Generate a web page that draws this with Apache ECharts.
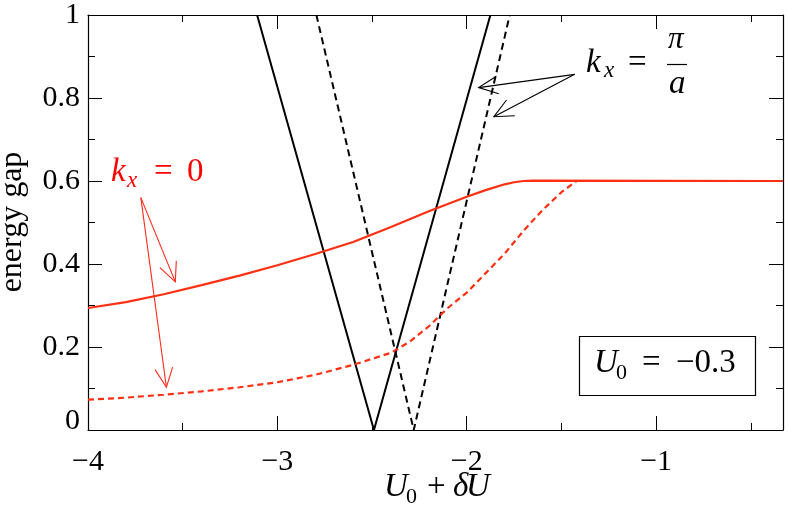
<!DOCTYPE html>
<html><head><meta charset="utf-8">
<script src="https://cdn.jsdelivr.net/npm/echarts@6/dist/echarts.min.js"></script>
<style>html,body{margin:0;padding:0;background:#fff}#c{width:789px;height:508px}</style>
</head><body><div id="c"></div>
<script>
// ---- data ----
const piSolidX = [-3.107, -2.49, -1.875];
const piSolidY = [1, 0, 1];
const piDashX = [-2.794, -2.28, -1.773];
const piDashY = [1, 0, 1];
const zeroSolidX = [-4.0, -3.8, -3.6, -3.4, -3.2, -3.0, -2.8, -2.6, -2.4, -2.2, -2.0, -1.9, -1.8, -1.75, -1.7, -1.65, -0.33];
const zeroSolidY = [0.294, 0.308, 0.327, 0.349, 0.372, 0.397, 0.424, 0.453, 0.489, 0.527, 0.562, 0.578, 0.592, 0.597, 0.600, 0.601, 0.600];
const zeroDashX = [-4.0, -3.8, -3.6, -3.4, -3.2, -3.0, -2.8, -2.6, -2.4, -2.3, -2.2, -2.1, -2.0, -1.9, -1.8, -1.7, -1.6, -1.5, -1.45, -1.42, -0.33];
const zeroDashY = [0.073, 0.078, 0.085, 0.093, 0.103, 0.115, 0.133, 0.157, 0.186, 0.213, 0.250, 0.294, 0.331, 0.378, 0.425, 0.480, 0.530, 0.573, 0.590, 0.600, 0.600];
const xTickLabels = ['\u22124', '\u22123', '\u22122', '\u22121'];
const yTickLabels = ['0', '0.2', '0.4', '0.6', '0.8', '1'];
// annotation arrows [start, end] in data coordinates
const arrowsZero = [[[-3.721, 0.56], [-3.539, 0.357]], [[-3.721, 0.56], [-3.586, 0.103]]];
const arrowsPi = [[[-1.43, 0.857], [-1.937, 0.825]], [[-1.43, 0.857], [-1.857, 0.755]]];

const FONT = '"Liberation Serif","DejaVu Serif",serif';
const RED = '#ff2f12';
const zip = (xs, ys) => xs.map((x, i) => [x, ys[i]]);

const chart = echarts.init(document.getElementById('c'), null, {renderer: 'canvas'});

const commonTick = {
  axisTick: {show: true, inside: true, length: 14, lineStyle: {color: '#000', width: 1}},
  minorTick: {show: true, splitNumber: 2, length: 7, lineStyle: {color: '#000', width: 1}},
  splitLine: {show: false}, minorSplitLine: {show: false},
  axisLine: {show: true, onZero: false, lineStyle: {color: '#000', width: 1.2}}
};
const xBase = Object.assign({type: 'value', min: -4, max: -0.33, interval: 1}, commonTick);
const yBase = Object.assign({type: 'value', min: 0, max: 1, interval: 0.2}, commonTick);

chart.setOption({
  animation: false,
  backgroundColor: '#fff',
  grid: {left: 88, right: 6, top: 10, bottom: 78, containLabel: false},
  xAxis: [
    Object.assign({}, xBase, {position: 'bottom',
      axisLabel: {show: true, showMaxLabel: false, margin: 17, color: '#000', fontFamily: FONT, fontSize: 30,
        formatter: v => { const i = Math.round(v + 4); return (Math.abs(v - Math.round(v)) < 1e-6 && i >= 0 && i < xTickLabels.length) ? xTickLabels[i] : ''; }}}),
    Object.assign({}, xBase, {position: 'top', axisLabel: {show: false}})
  ],
  yAxis: [
    Object.assign({}, yBase, {position: 'left',
      axisLabel: {show: true, margin: 8, color: '#000', fontFamily: FONT, fontSize: 30,
        formatter: v => { const i = Math.round(v * 5); const s = yTickLabels[i]; return i === 0 ? '{z|' + s + '}' : s; },
        rich: {z: {fontFamily: FONT, fontSize: 30, color: '#000', padding: [0, 0, 18, 0]}}}}),
    Object.assign({}, yBase, {position: 'right', axisLabel: {show: false}})
  ],
  series: [
    {type: 'line', xAxisIndex: 0, yAxisIndex: 0, data: zip(piSolidX, piSolidY), showSymbol: false, clip: true,
      lineStyle: {color: '#000', width: 2}},
    {type: 'line', xAxisIndex: 0, yAxisIndex: 0, data: zip(piDashX, piDashY), showSymbol: false, clip: true,
      lineStyle: {color: '#000', width: 2, type: [7, 4.5]}},
    {type: 'line', xAxisIndex: 0, yAxisIndex: 0, data: zip(zeroSolidX, zeroSolidY), showSymbol: false, clip: true,
      lineStyle: {color: RED, width: 2.2}},
    {type: 'line', xAxisIndex: 0, yAxisIndex: 0, data: zip(zeroDashX, zeroDashY), showSymbol: false, clip: true,
      lineStyle: {color: RED, width: 2.2, type: [6, 4]}}
  ]
});

function t(text, x, base, size, italic, color, align) {
  return {type: 'text', x: x, y: base - 0.33 * size, silent: true, z: 100,
    style: {text: text, fontFamily: FONT, fontSize: size, fontStyle: italic ? 'italic' : 'normal', fill: color || '#000',
      align: align || 'left', verticalAlign: 'middle', textAlign: align || 'left', textVerticalAlign: 'middle'}};
}
function arrow(p0, p1, color, w) {
  const dx = p1[0] - p0[0], dy = p1[1] - p0[1], L = Math.hypot(dx, dy);
  const ux = dx / L, uy = dy / L, hl = 21, a = 25 * Math.PI / 180, c = Math.cos(a), s = Math.sin(a);
  const h1 = [p1[0] + hl * (-ux * c + uy * s), p1[1] + hl * (-uy * c - ux * s)];
  const h2 = [p1[0] + hl * (-ux * c - uy * s), p1[1] + hl * (-uy * c + ux * s)];
  return [
    {type: 'line', silent: true, z: 90, shape: {x1: p0[0], y1: p0[1], x2: p1[0], y2: p1[1]}, style: {stroke: color, lineWidth: w}},
    {type: 'polyline', silent: true, z: 90, shape: {points: [h1, p1, h2]}, style: {stroke: color, lineWidth: w, fill: null}}
  ];
}
const px = p => chart.convertToPixel({xAxisIndex: 0, yAxisIndex: 0}, p);
let g = [];
arrowsZero.forEach(a => { g = g.concat(arrow(px(a[0]), px(a[1]), '#ff2a1a', 1.1)); });
arrowsPi.forEach(a => { g = g.concat(arrow(px(a[0]), px(a[1]), '#000', 1.1)); });
// k_x = 0 (red)
g.push(t('k', 111, 183, 33, true, '#ff0000'));
g.push(t('x', 127, 189, 23, true, '#ff0000'));
g.push(t('=', 154, 183, 33, false, '#ff0000'));
g.push(t('0', 187, 183, 33, false, '#ff0000'));
// k_x = pi / a
g.push(t('k', 586, 74, 33, true));
g.push(t('x', 604, 79, 23, true));
g.push(t('=', 628, 74, 33, false));
g.push(t('\u03c0', 668, 50, 31, true));
g.push({type: 'line', silent: true, z: 100, shape: {x1: 667, y1: 64.5, x2: 687, y2: 64.5}, style: {stroke: '#000', lineWidth: 1.2}});
g.push(t('a', 669, 95, 33, true));
// U0 = -0.3 box
g.push({type: 'rect', silent: true, z: 95, shape: {x: 579.5, y: 336.5, width: 176, height: 59}, style: {stroke: '#000', lineWidth: 1.2, fill: '#fff'}});
g.push(t('U', 594, 374, 33, true));
g.push(t('0', 616, 380, 22, false));
g.push(t('=', 642, 374, 33, false));
g.push(t('\u22120.3', 676, 374, 33, false));
// x axis title
g.push(t('U', 384, 498, 33, true));
g.push(t('0', 406, 504, 22, false));
g.push(t('+', 427, 498, 33, false));
g.push(t('\u03b4', 453, 498, 33, true));
g.push(t('U', 466, 498, 33, true));
// y axis title
g.push({type: 'text', x: 13, y: 222, rotation: Math.PI / 2, silent: true, z: 100,
  style: {text: 'energy gap', fontFamily: FONT, fontSize: 32, fill: '#000', align: 'center', verticalAlign: 'middle', textAlign: 'center', textVerticalAlign: 'middle'}});
chart.setOption({graphic: g});
</script></body></html>
